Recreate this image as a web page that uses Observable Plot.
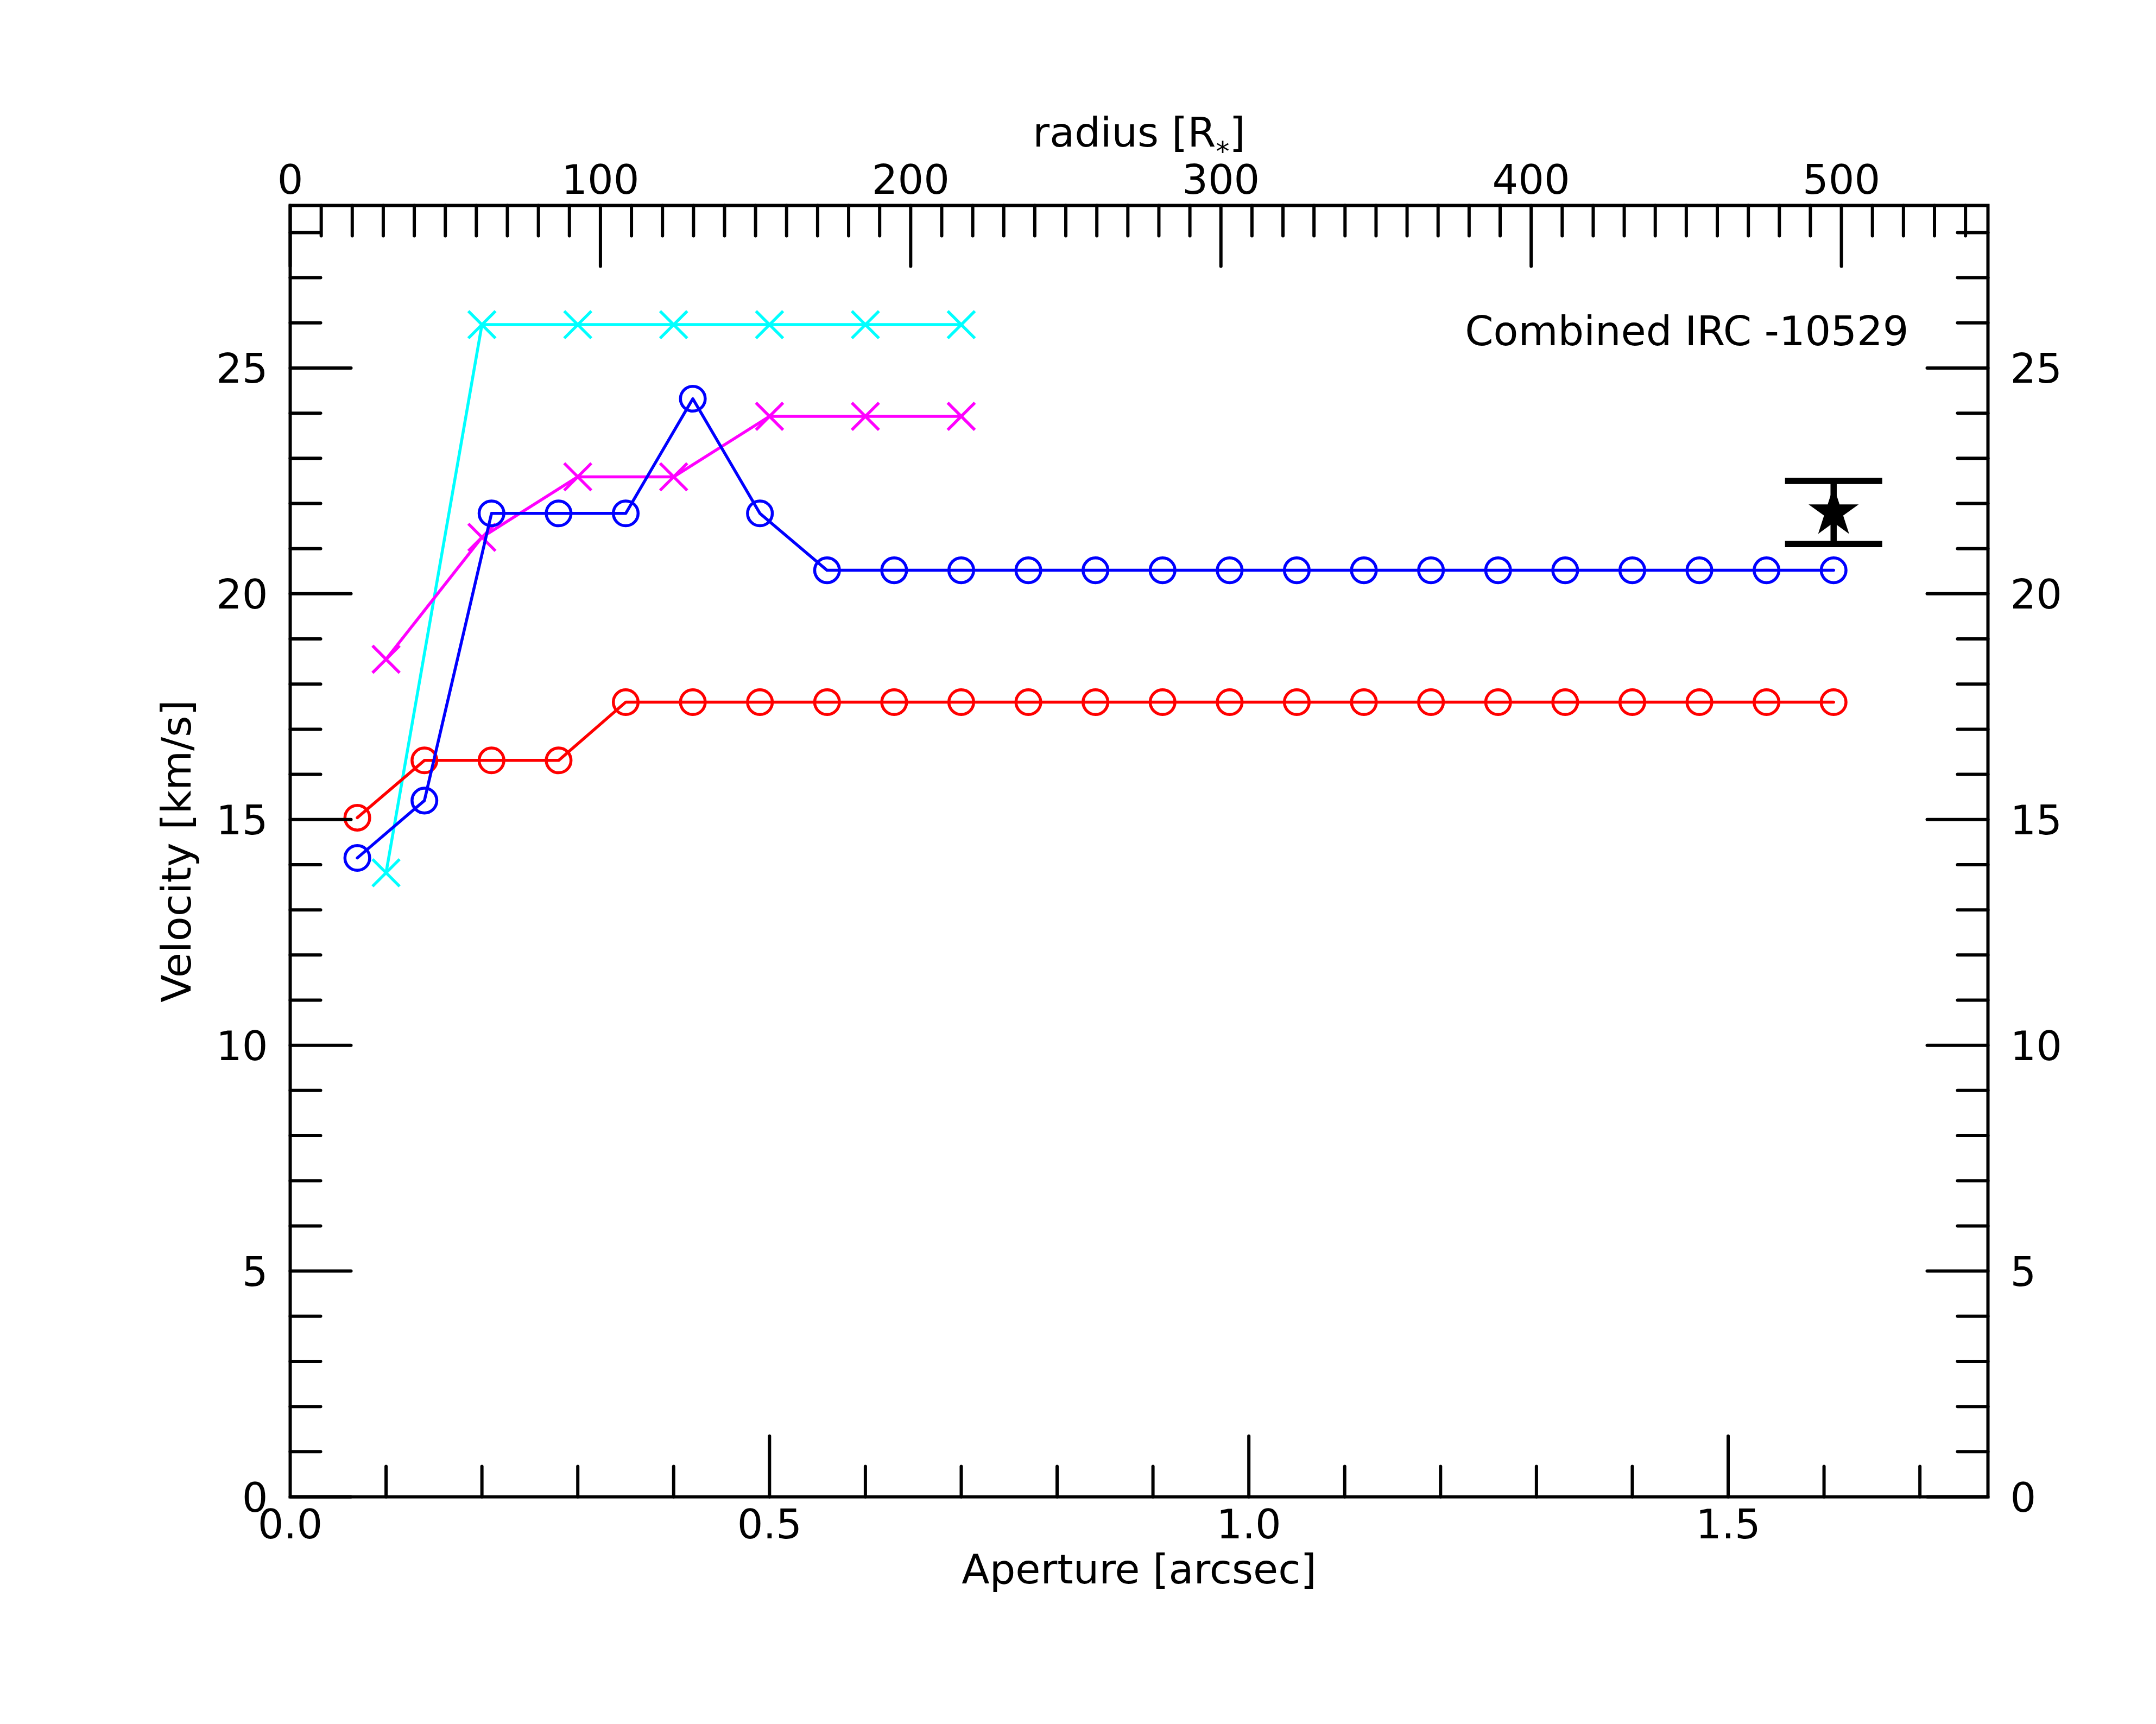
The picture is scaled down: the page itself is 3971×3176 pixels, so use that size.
<!DOCTYPE html>
<html>
<head>
<meta charset="utf-8">
<script src="https://cdn.jsdelivr.net/npm/d3@7"></script>
<script src="https://cdn.jsdelivr.net/npm/@observablehq/plot@0.6"></script>
<style>
  html, body { margin: 0; padding: 0; background: white; overflow: hidden; }
  svg { display: block; }
</style>
</head>
<body>
<div id="chart"></div>
<script>
// ---- data ----
const apertureCircles = [0.07,0.14,0.21,0.28,0.35,0.42,0.49,0.56,0.63,0.70,0.77,0.84,0.91,0.98,1.05,1.12,1.19,1.26,1.33,1.40,1.47,1.54,1.61];
const redVel  = [15.04,16.31,16.31,16.31,17.6,17.6,17.6,17.6,17.6,17.6,17.6,17.6,17.6,17.6,17.6,17.6,17.6,17.6,17.6,17.6,17.6,17.6,17.6];
const blueVel = [14.15,15.42,21.78,21.78,21.78,24.32,21.78,20.52,20.52,20.52,20.52,20.52,20.52,20.52,20.52,20.52,20.52,20.52,20.52,20.52,20.52,20.52,20.52];

const apertureCrosses = [0.1,0.2,0.3,0.4,0.5,0.6,0.7];
const cyanVel    = [13.82,25.96,25.96,25.96,25.96,25.96,25.96];
const magentaVel = [18.55,21.25,22.59,22.59,23.93,23.93,23.93];

const starAperture = [1.61];
const starVel = [21.8];
const starErr = [0.7];

const xLabelTicks = [0.0, 0.5, 1.0, 1.5];
const xMajorTicks = [0.5, 1.0, 1.5];
const xMinorTicks = [0.1,0.2,0.3,0.4,0.6,0.7,0.8,0.9,1.1,1.2,1.3,1.4,1.6,1.7];
const rMajorTicks = [0,100,200,300,400,500];
const rMinorTicks = [10,20,30,40,50,60,70,80,90,110,120,130,140,150,160,170,180,190,210,220,230,240,250,260,270,280,290,310,320,330,340,350,360,370,380,390,410,420,430,440,450,460,470,480,490,510,520,530,540];
const yMajorTicks = [0,5,10,15,20,25];
const yMinorTicks = [1,2,3,4,6,7,8,9,11,12,13,14,16,17,18,19,21,22,23,24,26,27,28];
const rstarPerArcsec = 309;   // top axis: radius [R*] per arcsec

const titleText = "Combined IRC -10529";
const xLabel = "Aperture [arcsec]";
const yLabel = "Velocity [km/s]";
const topLabel = "radius [R*]";

// ---- tables ----
const red = apertureCircles.map((a, i) => ({a, v: redVel[i]}));
const blue = apertureCircles.map((a, i) => ({a, v: blueVel[i]}));
const cyan = apertureCrosses.map((a, i) => ({a, v: cyanVel[i]}));
const magenta = apertureCrosses.map((a, i) => ({a, v: magentaVel[i]}));
const star = starAperture.map((a, i) => ({a, v: starVel[i], lo: starVel[i] - starErr[i], hi: starVel[i] + starErr[i]}));

const tickShape = {draw(context, l) { context.moveTo(0, 0); context.lineTo(0, -l); }};
const capSymbol = {draw(context, size) { const h = Math.sqrt(size / Math.PI); context.moveTo(-h, 0); context.lineTo(h, 0); }};

const FS = 75, LW = 5.5, MR = 22.8, TW = 6, MAJ = 112, MIN = 56;

function ticks(data, acc, anchor, rotate, len) {
  const o = {frameAnchor: anchor, rotate, length: len, anchor: "start", shape: tickShape, stroke: "black", strokeWidth: TW};
  if (anchor === "bottom" || anchor === "top") o.x = acc; else o.y = acc;
  return Plot.vector(data, o);
}

function series(data, color, symbol) {
  return [
    Plot.line(data, {x: "a", y: "v", stroke: color, strokeWidth: LW}),
    Plot.dot(data, {x: "a", y: "v", r: MR, symbol, stroke: color, strokeWidth: LW, fill: "none"})
  ];
}

const chart = Plot.plot({
  width: 3971,
  height: 3176,
  marginLeft: 534,
  marginRight: 310,
  marginTop: 378,
  marginBottom: 419,
  x: {domain: [0, 1.771], axis: null},
  y: {domain: [0, 28.6], axis: null},
  style: {fontFamily: "DejaVu Sans", background: "white", color: "black"},
  marks: [
    ...series(cyan, "#00ffff", "times"),
    ...series(magenta, "#ff00ff", "times"),
    ...series(red, "#ff0000", "circle"),
    ...series(blue, "#0000ff", "circle"),
    // star with error bar
    Plot.ruleX(star, {x: "a", y1: "lo", y2: "hi", stroke: "black", strokeWidth: 11.5}),
    Plot.dot(star, {x: "a", y: "lo", symbol: capSymbol, r: 89.5, stroke: "black", strokeWidth: 11.5, fill: "none"}),
    Plot.dot(star, {x: "a", y: "hi", symbol: capSymbol, r: 89.5, stroke: "black", strokeWidth: 11.5, fill: "none"}),
    Plot.dot(star, {x: "a", y: "v", symbol: "star", r: 29, fill: "black", stroke: "none"}),
    // ticks (inward)
    ticks(xMajorTicks, d => d, "bottom", 0, MAJ),
    ticks(xMinorTicks, d => d, "bottom", 0, MIN),
    ticks(rMajorTicks, d => d / rstarPerArcsec, "top", 180, MAJ),
    ticks(rMinorTicks, d => d / rstarPerArcsec, "top", 180, MIN),
    ticks(yMajorTicks, d => d, "left", 90, MAJ),
    ticks(yMinorTicks, d => d, "left", 90, MIN),
    ticks(yMajorTicks, d => d, "right", -90, MAJ),
    ticks(yMinorTicks, d => d, "right", -90, MIN),
    Plot.frame({stroke: "black", strokeWidth: TW}),
    // tick labels
    Plot.text(xLabelTicks, {x: d => d, frameAnchor: "bottom", dy: 23, lineAnchor: "top", text: d => d.toFixed(1), fontSize: FS, fill: "black"}),
    Plot.text(rMajorTicks, {x: d => d / rstarPerArcsec, frameAnchor: "top", dy: -22, lineAnchor: "bottom", text: d => String(d), fontSize: FS, fill: "black"}),
    Plot.text(yMajorTicks, {y: d => d, frameAnchor: "left", dx: -41, dy: 3, textAnchor: "end", lineAnchor: "middle", text: d => String(d), fontSize: FS, fill: "black"}),
    Plot.text(yMajorTicks, {y: d => d, frameAnchor: "right", dx: 41, dy: 3, textAnchor: "start", lineAnchor: "middle", text: d => String(d), fontSize: FS, fill: "black"}),
    // labels
    Plot.text([xLabel], {frameAnchor: "bottom", dy: 159, lineAnchor: "bottom", text: d => d, fontSize: FS, fill: "black"}),
    Plot.text([topLabel], {frameAnchor: "top", dy: -109, lineAnchor: "bottom", text: d => d, fontSize: FS, fill: "black"}),
    Plot.text([yLabel], {frameAnchor: "left", dx: -184, rotate: -90, lineAnchor: "bottom", textAnchor: "middle", text: d => d, fontSize: FS, fill: "black"}),
    Plot.text([titleText], {frameAnchor: "top-right", dx: -146, dy: 257, textAnchor: "end", lineAnchor: "bottom", text: d => d, fontSize: FS, fill: "black"})
  ]
});

document.getElementById("chart").appendChild(chart);

// subscript asterisk in "radius [R*]"
const NS = "http://www.w3.org/2000/svg";
chart.querySelectorAll("text").forEach(t => {
  if (t.textContent === topLabel) {
    t.textContent = "radius [R";
    const s = document.createElementNS(NS, "tspan");
    s.setAttribute("font-size", "50");
    s.setAttribute("dy", "26");
    s.textContent = "*";
    const e = document.createElementNS(NS, "tspan");
    e.setAttribute("dy", "-26");
    e.textContent = "]";
    t.appendChild(s);
    t.appendChild(e);
  }
});
</script>
</body>
</html>
